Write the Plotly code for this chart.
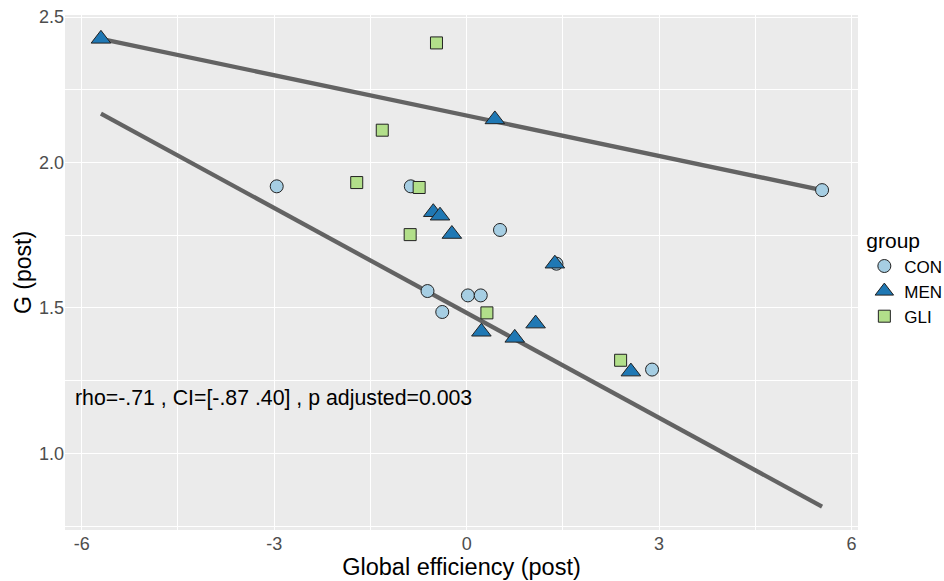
import plotly.graph_objects as go

# ---- data ----
con_x = [-2.96, -0.87, 5.54, 0.52, 1.40, -0.61, 0.02, 0.22, -0.38, 2.89]
con_y = [1.918, 1.918, 1.905, 1.768, 1.652, 1.558, 1.543, 1.543, 1.486, 1.288]

men_x = [-5.70, 0.44, -0.52, -0.415, -0.23, 1.375, 0.23, 0.75, 1.075, 2.56]
men_y = [2.425, 2.148, 1.829, 1.817, 1.754, 1.652, 1.418, 1.397, 1.446, 1.281]

gli_x = [-0.47, -1.315, -1.713, -0.74, -0.88, 0.316, 2.40]
gli_y = [2.411, 2.111, 1.931, 1.914, 1.752, 1.483, 1.320]

fit_x = [-5.70, 5.54]
upper_fit_y = [2.425, 1.905]
lower_fit_y = [2.168, 0.817]

x_ticks = [-6, -3, 0, 3, 6]
y_ticks = [1.0, 1.5, 2.0, 2.5]
y_tick_labels = ["1.0", "1.5", "2.0", "2.5"]

stat_text = "rho=-.71 , CI=[-.87 .40] , p adjusted=0.003"

FONT = "Liberation Sans, Arial, sans-serif"
LINE_COL = "#636363"
OUTLINE = dict(color="#222222", width=1)

fig = go.Figure()

for fy in (upper_fit_y, lower_fit_y):
    fig.add_trace(go.Scatter(x=fit_x, y=fy, mode="lines",
                             line=dict(color=LINE_COL, width=4.3),
                             showlegend=False, hoverinfo="skip"))

fig.add_trace(go.Scatter(x=con_x, y=con_y, mode="markers", name="CON",
                         marker=dict(symbol="circle", size=13, color="#A6CEE3", line=OUTLINE)))
fig.add_trace(go.Scatter(x=men_x, y=men_y, mode="markers", name="MEN",
                         marker=dict(symbol="triangle-up", size=17, color="#1F78B4", line=OUTLINE)))
fig.add_trace(go.Scatter(x=gli_x, y=gli_y, mode="markers", name="GLI",
                         marker=dict(symbol="square", size=12, color="#B2DF8A", line=OUTLINE)))

fig.add_annotation(x=-6.13, y=1.192, xref="x", yref="y", text=stat_text,
                   showarrow=False, xanchor="left", yanchor="middle",
                   font=dict(family=FONT, size=21.3, color="black"))

fig.update_layout(
    width=944, height=581,
    margin=dict(l=65, r=86, t=15, b=51, autoexpand=False),
    paper_bgcolor="white", plot_bgcolor="#EBEBEB",
    font=dict(family=FONT, color="black"),
    legend=dict(title=dict(text="group", font=dict(size=21, family=FONT)),
                font=dict(size=17, family=FONT),
                x=1.008, xanchor="left", y=0.49, yanchor="middle",
                bgcolor="rgba(0,0,0,0)", tracegroupgap=0),
)

fig.update_xaxes(
    range=[-6.26, 6.10], tickmode="array", tickvals=x_ticks,
    ticktext=[str(v) for v in x_ticks],
    showgrid=True, gridcolor="white", gridwidth=1.2, zeroline=False,
    minor=dict(dtick=1.5, tick0=0, showgrid=True, gridcolor="white", gridwidth=0.6),
    ticks="", ticklen=0, ticklabelstandoff=1,
    tickfont=dict(size=18, color="#4D4D4D", family=FONT),
    title=dict(text="Global efficiency (post)", font=dict(size=23.5, color="black", family=FONT), standoff=0),
    showline=False, automargin=False,
)
fig.update_yaxes(
    range=[0.7365, 2.507], tickmode="array", tickvals=y_ticks, ticktext=y_tick_labels,
    showgrid=True, gridcolor="white", gridwidth=1.2, zeroline=False,
    minor=dict(dtick=0.25, tick0=0, showgrid=True, gridcolor="white", gridwidth=0.6),
    ticks="", ticklen=0,
    tickfont=dict(size=18, color="#4D4D4D", family=FONT),
    title=dict(text="G (post)", font=dict(size=23, color="black", family=FONT), standoff=0),
    showline=False, automargin=False,
)

fig.write_html("out.html", config={"displayModeBar": False},
               post_script="document.body.style.margin='0px';")
